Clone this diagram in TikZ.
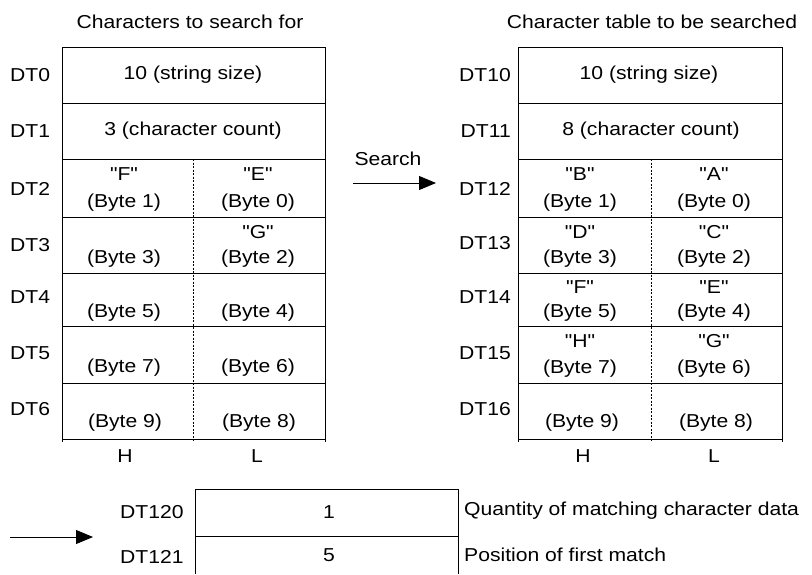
\documentclass[tikz,border=0pt]{standalone}
\usepackage{fontspec}
\setmainfont{Liberation Sans}[FakeStretch=1.13, Ligatures=TeXOff]
\usetikzlibrary{arrows.meta}
\begin{document}
\begin{tikzpicture}[x=1pt,y=-1pt,
  every node/.style={inner sep=0pt, font=\fontsize{18.7}{22}\selectfont},
  frame/.style={line width=0.9pt, draw=black},
  divider/.style={line width=0.7pt, dash pattern=on 2pt off 1.5pt},
  lbl/.style={anchor=west},
  rlbl/.style={anchor=east},
  arr/.style={line width=0.9pt, -{Triangle[length=17pt,width=14pt]}}]
\useasboundingbox (0,0) rectangle (812,574);

% ---------- left table ----------
\draw[frame] (62,442) -- (62,47) -- (325,47) -- (325,442);
\foreach \y in {103,159,217,273,326,383,439} \draw[frame] (62,\y) -- (325,\y);
\draw[divider] (193,159) -- (193,442);

\node (titleL) at (190,22) {Characters to search for};
\node[lbl] (dt0) at (10,75) {DT0};
\node[lbl] (dt1) at (10,131) {DT1};
\node[lbl] (dt2) at (10,189) {DT2};
\node[lbl] (dt3) at (10,245) {DT3};
\node[lbl] (dt4) at (10,297) {DT4};
\node[lbl] (dt5) at (10,353) {DT5};
\node[lbl] (dt6) at (10,409) {DT6};

\node (l0) at (193,75) {10 (string size)};
\node (l1) at (193,131) {3 (character count)};
\node (l2hc) at (124,174) {"F"};
\node (l2hb) at (124,203) {(Byte 1)};
\node (l2lc) at (258,174) {"E"};
\node (l2lb) at (258,203) {(Byte 0)};
\node (l3lc) at (258,232) {"G"};
\node (l3hb) at (124,259) {(Byte 3)};
\node (l3lb) at (258,259) {(Byte 2)};
\node (l4hb) at (124,313) {(Byte 5)};
\node (l4lb) at (258,313) {(Byte 4)};
\node (l5hb) at (124,368) {(Byte 7)};
\node (l5lb) at (258,368) {(Byte 6)};
\node (l6hb) at (125,423) {(Byte 9)};
\node (l6lb) at (259,423) {(Byte 8)};
\node (lH) at (125,456) {H};
\node (lL) at (257,456) {L};

% ---------- search arrow ----------
\node (search) at (388,159) {Search};
\coordinate (sA) at (353,183);
\coordinate (sB) at (436,183);
\draw[arr] (sA) -- (sB);

% ---------- right table ----------
\draw[frame] (518,442) -- (518,47) -- (782,47) -- (782,442);
\foreach \y in {103,159,217,273,326,383,439} \draw[frame] (518,\y) -- (782,\y);
\draw[divider] (651,159) -- (651,442);

\node (titleR) at (652,22) {Character table to be searched};
\node[rlbl] (dt10) at (511,75) {DT10};
\node[rlbl] (dt11) at (511,131) {DT11};
\node[rlbl] (dt12) at (511,189) {DT12};
\node[rlbl] (dt13) at (511,243) {DT13};
\node[rlbl] (dt14) at (511,297) {DT14};
\node[rlbl] (dt15) at (511,353) {DT15};
\node[rlbl] (dt16) at (511,409) {DT16};

\node (r0) at (649,75) {10 (string size)};
\node (r1) at (651,131) {8 (character count)};
\node (r2hc) at (580,174) {"B"};
\node (r2hb) at (580,203) {(Byte 1)};
\node (r2lc) at (714,174) {"A"};
\node (r2lb) at (714,203) {(Byte 0)};
\node (r3hc) at (580,232) {"D"};
\node (r3hb) at (580,259) {(Byte 3)};
\node (r3lc) at (714,232) {"C"};
\node (r3lb) at (714,259) {(Byte 2)};
\node (r4hc) at (580,287) {"F"};
\node (r4hb) at (580,313) {(Byte 5)};
\node (r4lc) at (714,287) {"E"};
\node (r4lb) at (714,313) {(Byte 4)};
\node (r5hc) at (580,341) {"H"};
\node (r5hb) at (580,369) {(Byte 7)};
\node (r5lc) at (714,341) {"G"};
\node (r5lb) at (714,369) {(Byte 6)};
\node (r6hb) at (582,423) {(Byte 9)};
\node (r6lb) at (716,423) {(Byte 8)};
\node (rH) at (583,456) {H};
\node (rL) at (714,456) {L};

% ---------- result ----------
\draw[frame] (195,574) -- (195,489) -- (458,489) -- (458,574);
\draw[frame] (195,536) -- (458,536);
\node[lbl] (dt120) at (120,512) {DT120};
\node[lbl] (dt121) at (120,557) {DT121};
\node (v1) at (329,512) {1};
\node (v2) at (329,555) {5};
\node[lbl] (q1) at (464,511) {Quantity of matching character data};
\node[lbl] (q2) at (464,555) {Position of first match};
\coordinate (rA) at (10,537);
\coordinate (rB) at (93,537);
\draw[arr] (rA) -- (rB);
\end{tikzpicture}
\end{document}
